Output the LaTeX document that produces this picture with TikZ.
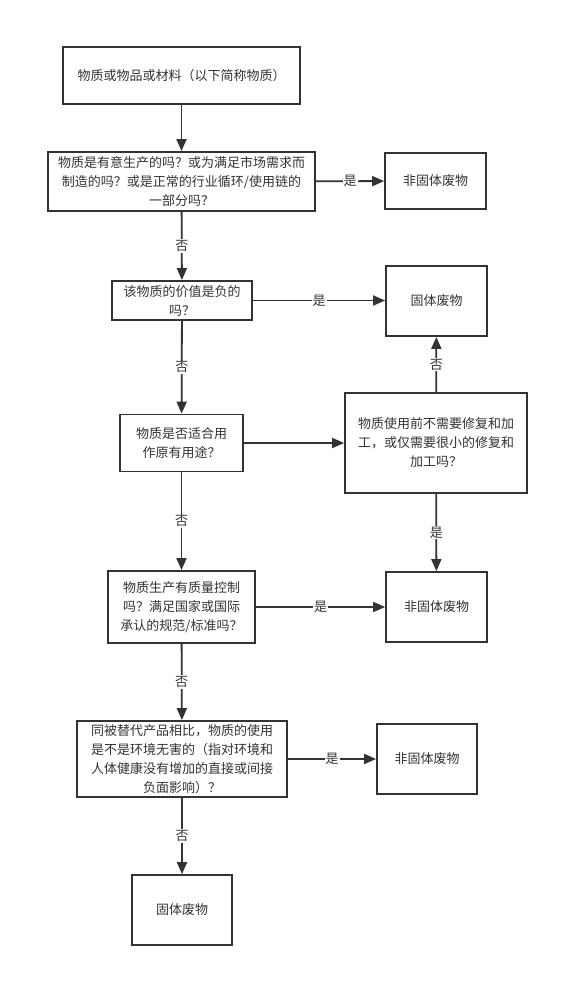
\documentclass[tikz,border=0pt]{standalone}
\usepackage{fontspec}
\newfontfamily\cjk{Noto Sans CJK SC}
\usetikzlibrary{arrows.meta}
\definecolor{ink}{HTML}{333333}
\tikzset{
  box/.style={draw=ink, line width=1.8pt, fill=white, inner sep=0pt, align=center,
    text=ink, font=\cjk\fontsize{13}{19}\selectfont},
  conn/.style={draw=ink, line width=1.8pt, -{Triangle[length=12pt,width=10pt]}},
  lbl/.style={fill=white, inner sep=1pt, text=ink, font=\cjk\fontsize{13}{14}\selectfont}
}
\begin{document}
\begin{tikzpicture}[x=1pt,y=-1pt]
\useasboundingbox[fill=white] (0,0) rectangle (588,1006);
\node[box, minimum width=237pt, minimum height=57pt] (b1) at (181.5,75.5) {物质或物品或材料（以下简称物质）};
\node[box, minimum width=267pt, minimum height=59pt] (b2) at (181.5,181.5) {物质是有意生产的吗？或为满足市场需求而\\制造的吗？或是正常的行业循环/使用链的\\一部分吗？};
\node[box, minimum width=101pt, minimum height=56pt] (n1) at (435.5,181) {非固体废物};
\node[box, minimum width=140pt, minimum height=39pt] (b4) at (182,300.5) {该物质的价值是负的\\吗？};
\node[box, minimum width=101pt, minimum height=70pt] (s1) at (436.5,301) {固体废物};
\node[box, minimum width=123pt, minimum height=57pt] (b6) at (181.5,443) {物质是否适合用\\作原有用途？};
\node[box, minimum width=182pt, minimum height=100pt] (b7) at (436,443) {物质使用前不需要修复和加\\工，或仅需要很小的修复和\\加工吗？};
\node[box, minimum width=147pt, minimum height=72pt] (b8) at (181.5,607) {物质生产有质量控制\\吗？满足国家或国际\\承认的规范/标准吗？};
\node[box, minimum width=101pt, minimum height=70pt] (n2) at (436.5,607) {非固体废物};
\node[box, minimum width=210pt, minimum height=76pt] (b10) at (182,759) {同被替代产品相比，物质的使用\\是不是环境无害的（指对环境和\\人体健康没有增加的直接或间接\\负面影响）？};
\node[box, minimum width=100pt, minimum height=70pt] (n3) at (427,759) {非固体废物};
\node[box, minimum width=100pt, minimum height=70pt] (s2) at (182,910) {固体废物};

\draw[conn] (b1) -- (b2);
\draw[conn] (b2) -- node[lbl] {是} (n1);
\draw[conn] (b2) -- node[lbl] {否} (b4);
\draw[conn] (b4.east) -- node[lbl] {是} (s1.west |- b4.east);
\draw[conn] (b4) -- node[lbl] {否} (b6);
\draw[conn] (b6) -- (b7);
\draw[conn] (b7) -- node[lbl] {否} (s1);
\draw[conn] (b7) -- node[lbl] {是} (n2);
\draw[conn] (b6) -- node[lbl] {否} (b8);
\draw[conn] (b8) -- node[lbl] {是} (n2);
\draw[conn] (b8) -- node[lbl] {否} (b10);
\draw[conn] (b10) -- node[lbl] {是} (n3);
\draw[conn] (b10) -- node[lbl] {否} (s2);
\end{tikzpicture}
\end{document}
